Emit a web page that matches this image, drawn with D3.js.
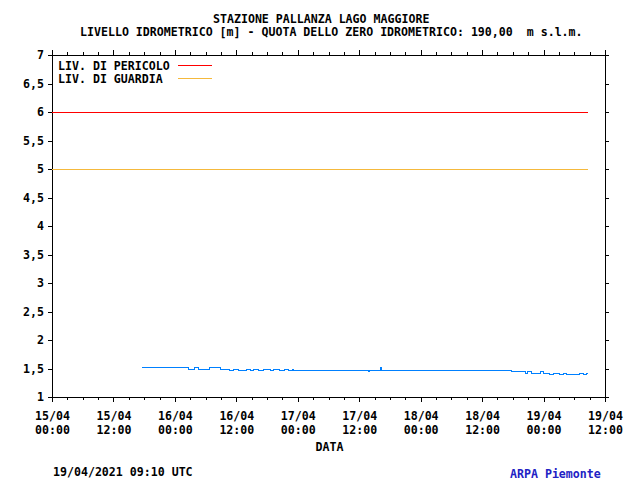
<!DOCTYPE html>
<html><head><meta charset="utf-8">
<script src="https://cdn.jsdelivr.net/npm/d3@7"></script>
<style>
html,body{margin:0;padding:0;background:#fff;}
svg{display:block;}
text{font-family:"DejaVu Sans Mono","Liberation Mono",monospace;font-weight:bold;font-size:11.6px;fill:#000;white-space:pre;}
</style></head>
<body>
<svg id="c" width="640" height="480"></svg>
<script>
const titleLines = ["STAZIONE PALLANZA LAGO MAGGIORE",
  "LIVELLO IDROMETRICO [m] - QUOTA DELLO ZERO IDROMETRICO: 190,00  m s.l.m."];
const legendLabels = ["LIV. DI PERICOLO", "LIV. DI GUARDIA"];
const thresholds = [6, 5];
const thresholdColors = ["#ff0000", "#f5b93c"];
const xLabel = "DATA";
const footerLeft = "19/04/2021 09:10 UTC";
const footerRight = "ARPA Piemonte";
const xDomain = ["2021-04-15T00:00", "2021-04-19T12:00"];
const yDomain = [1, 7];
const yTicks = [1, 1.5, 2, 2.5, 3, 3.5, 4, 4.5, 5, 5.5, 6, 6.5, 7];

const times = [
"2021-04-15T17:35","2021-04-15T17:45",
"2021-04-16T02:45","2021-04-16T03:45","2021-04-16T04:40","2021-04-16T06:50","2021-04-16T08:50","2021-04-16T10:45","2021-04-16T11:25","2021-04-16T12:25","2021-04-16T13:55","2021-04-16T14:50","2021-04-16T15:20","2021-04-16T16:20","2021-04-16T17:15","2021-04-16T18:45","2021-04-16T19:20","2021-04-16T20:20","2021-04-16T21:20","2021-04-16T22:15","2021-04-16T22:55","2021-04-16T23:15",
"2021-04-17T04:20","2021-04-17T05:55","2021-04-17T06:20","2021-04-17T07:15","2021-04-17T08:15","2021-04-17T11:20","2021-04-17T11:50","2021-04-17T13:45","2021-04-17T14:05","2021-04-17T15:45","2021-04-17T16:10","2021-04-17T16:25","2021-04-17T23:50",
"2021-04-18T00:25","2021-04-18T01:00","2021-04-18T01:20","2021-04-18T02:50","2021-04-18T03:45","2021-04-18T04:25","2021-04-18T04:45","2021-04-18T06:25","2021-04-18T09:45","2021-04-18T10:15","2021-04-18T17:45","2021-04-18T20:25","2021-04-18T20:50","2021-04-18T21:40","2021-04-18T23:20",
"2021-04-19T00:00","2021-04-19T01:15","2021-04-19T01:55","2021-04-19T03:10","2021-04-19T03:50","2021-04-19T04:30","2021-04-19T07:05","2021-04-19T07:45","2021-04-19T08:20","2021-04-19T08:45"];
const levels = [
1.52,1.51,
1.49,1.51,1.49,1.51,1.49,1.47,1.49,1.47,1.49,1.47,1.49,1.47,1.49,1.47,1.49,1.47,1.49,1.47,1.49,1.47,
1.46,1.47,1.46,1.47,1.46,1.47,1.46,1.44,1.46,1.46,1.51,1.47,1.46,
1.47,1.46,1.47,1.46,1.47,1.46,1.47,1.46,1.47,1.46,1.44,1.42,1.44,1.42,1.44,
1.42,1.40,1.42,1.40,1.42,1.40,1.42,1.40,1.42,1.42];

const parse = d3.timeParse("%Y-%m-%dT%H:%M");
const data = times.map((t,i)=>({t:parse(t), v:levels[i]}));
const svg = d3.select("#c");
const L=52, R=605, T=55, B=397;
const x = d3.scaleTime().domain(xDomain.map(parse)).range([L,R]);
const y = d3.scaleLinear().domain(yDomain).range([B,T]);

function styleAxis(g){
  g.selectAll("path,line").attr("stroke","#000").attr("shape-rendering","crispEdges");
  g.selectAll("text").remove();
}
const minorT = d3.timeHour.every(3).range(x.domain()[0], d3.timeMinute.offset(x.domain()[1],1));
const majorT = d3.timeHour.every(12).range(x.domain()[0], d3.timeMinute.offset(x.domain()[1],1));

svg.append("g").attr("transform",`translate(0,${B})`)
  .call(d3.axisBottom(x).tickValues(minorT).tickSize(3).tickSizeOuter(0)).call(styleAxis);
svg.append("g").attr("transform",`translate(0,${B})`)
  .call(d3.axisBottom(x).tickValues(majorT).tickSize(5).tickSizeOuter(0)).call(styleAxis);
svg.append("g").attr("transform",`translate(0,${T})`)
  .call(d3.axisTop(x).tickValues(minorT).tickSize(3).tickSizeOuter(0)).call(styleAxis);
svg.append("g").attr("transform",`translate(0,${T})`)
  .call(d3.axisTop(x).tickValues(majorT).tickSize(5).tickSizeOuter(0)).call(styleAxis);
svg.append("g").attr("transform",`translate(${L},0)`)
  .call(d3.axisLeft(y).tickValues(yTicks).tickSize(4).tickSizeOuter(0)).call(styleAxis);
svg.append("g").attr("transform",`translate(${R},0)`)
  .call(d3.axisRight(y).tickValues(yTicks).tickSize(4).tickSizeOuter(0)).call(styleAxis);
svg.append("line").attr("x1",L).attr("x2",L).attr("y1",T-5).attr("y2",B+5).attr("stroke","#000").attr("shape-rendering","crispEdges");
svg.append("line").attr("x1",R).attr("x2",R).attr("y1",T-5).attr("y2",B+5).attr("stroke","#000").attr("shape-rendering","crispEdges");

const fmt = d3.format("");
svg.append("g").selectAll("text").data(yTicks).join("text")
  .attr("x",44).attr("y",d=>y(d)+4).attr("text-anchor","end")
  .text(d=>fmt(d).replace(".",","));

const fD = d3.timeFormat("%d/%m"), fH = d3.timeFormat("%H:%M");
const xl = svg.append("g").selectAll("text").data(majorT).join("text")
  .attr("text-anchor","middle");
xl.append("tspan").attr("x",d=>x(d)+0.5).attr("y",420).text(d=>fD(d));
xl.append("tspan").attr("x",d=>x(d)+0.5).attr("y",434).text(d=>fH(d));

svg.append("text").attr("x",(L+R)/2+1).attr("y",451).attr("text-anchor","middle").text(xLabel);

svg.append("text").attr("x",213).attr("y",23).text(titleLines[0]);
svg.append("text").attr("x",80).attr("y",36).text(titleLines[1]);

svg.append("text").attr("x",53).attr("y",476).text(footerLeft);
svg.append("text").attr("x",510).attr("y",478).style("fill","#2222c4").text(footerRight);

const tEnd = data[data.length-1].t;
thresholds.forEach((v,i)=>{
  svg.append("line").attr("x1",x(x.domain()[0])).attr("x2",x(tEnd))
    .attr("y1",y(v)).attr("y2",y(v)).attr("stroke",thresholdColors[i])
    .attr("shape-rendering","crispEdges");
});

legendLabels.forEach((lab,i)=>{
  svg.append("text").attr("x",58).attr("y",70+i*13).text(lab);
  svg.append("line").attr("x1",178).attr("x2",212).attr("y1",65+i*13).attr("y2",65+i*13)
    .attr("stroke",thresholdColors[i]).attr("shape-rendering","crispEdges");
});

const line = d3.line().x(d=>x(d.t)).y(d=>y(d.v)).curve(d3.curveStepAfter);
svg.append("path").datum(data).attr("d",line).attr("fill","none")
  .attr("stroke","#0080ff").attr("stroke-width",1).attr("shape-rendering","crispEdges");
</script>
</body></html>
